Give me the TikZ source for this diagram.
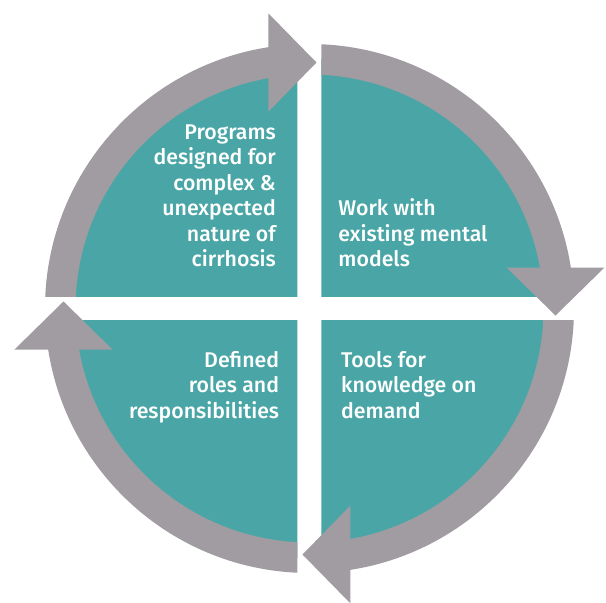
\documentclass[tikz,border=0pt]{standalone}
\usepackage{fontspec}
\setmainfont{Fira Sans Medium}
\usepackage{tikz}
\usetikzlibrary{positioning}

\definecolor{cycteal}{RGB}{74,166,166}
\definecolor{cycgrey}{RGB}{160,156,161}

\begin{document}
\begin{tikzpicture}[x=1pt, y=1pt,
    label/.style={text=white, inner sep=0pt, font=\fontsize{21.3}{25.5}\selectfont},
    head/.style={fill=cycgrey}]
    \useasboundingbox (-309.5,-294.5) rectangle (296.5,308.5);
    % quarters and ring pieces
    \foreach \a in {0,90,180,270}{
        \begin{scope}[rotate=\a]
            \clip (12,12) rectangle (300,300);
            \fill[cycteal] (0,0) circle (250);
            \fill[cycgrey, even odd rule] (0,0) circle (264.5) circle (234);
        \end{scope}
    }
    % arrow heads, clockwise
    \foreach \a in {0,-90,-180,-270}{
        \fill[head, rotate=\a] (-41,295) -- (7,246) -- (-41,197) -- cycle;
    }
    % texts, anchored at the last baseline
    \node[label, align=right, anchor=base east] (prog) at (-33.5,42)
        {Programs\\designed for\\complex \&\\unexpected\\nature of\\cirrhosis};
    \node[label, align=left, anchor=base west] (work) at (28.8,42)
        {Work with\\existing mental\\models};
    \node[label, align=right, anchor=base east] (roles) at (-30.2,-109.5)
        {Defined\\roles and\\responsibilities};
    \node[label, align=left, anchor=base west] (tools) at (31.5,-109.5)
        {Tools for\\knowledge on\\demand};
\end{tikzpicture}
\end{document}
